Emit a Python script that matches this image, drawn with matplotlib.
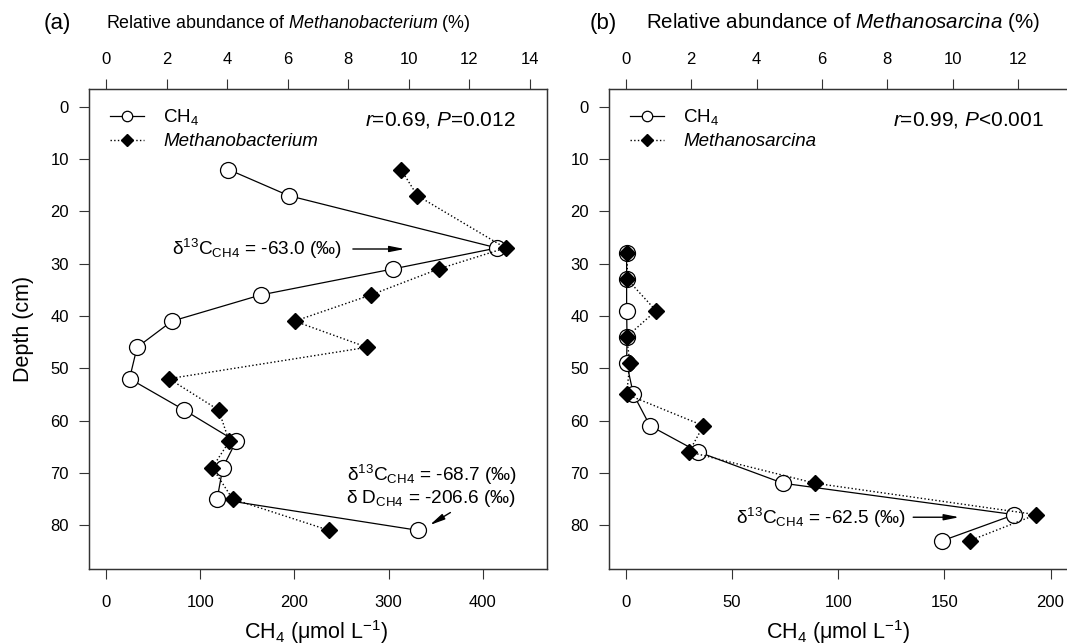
import matplotlib
matplotlib.use('Agg')
import matplotlib.pyplot as plt
from matplotlib.lines import Line2D

plt.rcParams['font.family'] = ['Liberation Sans', 'DejaVu Sans']
plt.rcParams['mathtext.fontset'] = 'custom'
plt.rcParams['mathtext.rm'] = 'Liberation Sans'
plt.rcParams['mathtext.it'] = 'Liberation Sans:italic'
plt.rcParams['mathtext.bf'] = 'Liberation Sans:bold'

# ---------------- data ----------------
depth_a = [12, 17, 27, 31, 36, 41, 46, 52, 58, 64, 69, 75, 81]
ch4_a = [130, 194, 415, 305, 164, 70, 33, 25, 83, 138, 124, 118, 331]
mbac_a = [9.74, 10.28, 13.19, 10.99, 8.74, 6.23, 8.62, 2.08, 3.72, 4.07, 3.51, 4.18, 7.36]

depth_b = [28, 33, 39, 44, 49, 55, 61, 66, 72, 78, 83]
ch4_b = [0.3, 0.3, 0.3, 0.5, 0.3, 3.5, 11.3, 34, 74, 183, 149]
msar_b = [0.04, 0.04, 0.92, 0.02, 0.12, 0.02, 2.37, 1.93, 5.79, 12.56, 10.52]

depth_ticks = [0, 10, 20, 30, 40, 50, 60, 70, 80]
ch4_ticks_a = [0, 100, 200, 300, 400]
ch4_ticks_b = [0, 50, 100, 150, 200]
pct_ticks_a = [0, 2, 4, 6, 8, 10, 12, 14]
pct_ticks_b = [0, 2, 4, 6, 8, 10, 12]

W, H = 1067, 644
fig = plt.figure(figsize=(W / 100, H / 100), dpi=100)

SPC = '#333333'
TICK_FS = 12
LAB_FS = 15.5


def style(ax, bottom):
    for s in ax.spines.values():
        s.set_color(SPC)
        s.set_linewidth(0.9)
    if bottom:
        ax.tick_params(axis='x', which='both', bottom=True, top=False,
                       labelbottom=True, labeltop=False, direction='out',
                       length=7.5, width=0.8, color=SPC, labelsize=TICK_FS, pad=11)
        ax.tick_params(axis='y', left=True, right=False, direction='out',
                       length=7.5, width=0.8, color=SPC, labelsize=TICK_FS, pad=7)
    else:
        ax.tick_params(axis='x', which='both', bottom=False, top=True,
                       labelbottom=False, labeltop=True, direction='out',
                       length=7.5, width=0.8, color=SPC, labelsize=TICK_FS, pad=8)
        ax.tick_params(axis='y', left=False, right=False, labelleft=False)


def panel(rect, depth, ch4, microbe, xlim, ch4_ticks, plim, pct_ticks, name, rtext,
          rx):
    ax = fig.add_axes(rect)
    ax.plot(ch4, depth, '-', color='black', lw=0.9, marker='o', ms=11.5,
            mfc='white', mec='black', mew=0.9, zorder=3)
    ax.set_xlim(*xlim)
    ax.set_ylim(88.4, -3.4)
    ax.set_xticks(ch4_ticks)
    ax.set_yticks(depth_ticks)
    style(ax, True)
    axt = ax.twiny()
    axt.plot(microbe, depth, ':', color='black', lw=1.0, marker='D', ms=8.3,
             mfc='black', mec='black', zorder=4)
    axt.set_xlim(*plim)
    axt.set_xticks(pct_ticks)
    style(axt, False)

    h1 = Line2D([], [], color='black', lw=0.9, marker='o', ms=7.5, mfc='white',
                mec='black', mew=0.9)
    h2 = Line2D([], [], color='black', lw=1.0, ls=':', marker='D', ms=6.3,
                mfc='black', mec='black')
    leg = axt.legend([h1, h2], ['CH$_4$', name], loc='upper left',
                     bbox_to_anchor=(0.045, 0.962), frameon=False, fontsize=13.5,
                     handlelength=1.85, handletextpad=1.0, borderpad=0,
                     borderaxespad=0, labelspacing=0.32)
    leg.get_texts()[1].set_style('italic')
    axt.text(rx, 0.935, rtext, transform=axt.transAxes, ha='right',
             va='center', fontsize=15)
    return ax, axt


ax_a, axt_a = panel([89 / W, 1 - 569 / H, 458 / W, 480 / H], depth_a, ch4_a,
                    mbac_a, (-18, 468), ch4_ticks_a, (-0.56, 14.56), pct_ticks_a,
                    'Methanobacterium', '$r$=0.69, $P$=0.012', 0.932)
ax_b, axt_b = panel([609 / W, 1 - 569 / H, 458.5 / W, 480 / H], depth_b, ch4_b,
                    msar_b, (-8, 208), ch4_ticks_b, (-0.52, 13.52), pct_ticks_b,
                    'Methanosarcina', '$r$=0.99, $P$<0.001', 0.949)

ANN_FS = 13.7
arrow = dict(arrowstyle='-|>,head_length=0.9,head_width=0.18', color='black',
             lw=1.0, shrinkA=0, shrinkB=0)

# panel (a) annotations
ax_a.text(250, 27.2, 'δ$^{13}$C$_{\\mathrm{CH4}}$ = -63.0 (‰)', ha='right',
          va='center', fontsize=ANN_FS)
ax_a.annotate('', xy=(317, 27.2), xytext=(262, 27.2), arrowprops=arrow)
ax_a.text(435.5, 70.5, 'δ$^{13}$C$_{\\mathrm{CH4}}$ = -68.7 (‰)', ha='right',
          va='center', fontsize=ANN_FS)
ax_a.text(435.5, 75.0, 'δ D$_{\\mathrm{CH4}}$ = -206.6 (‰)', ha='right',
          va='center', fontsize=ANN_FS)
ax_a.annotate('', xy=(343.6, 80.0), xytext=(365.5, 77.6), arrowprops=arrow)

# panel (b) annotations
ax_b.text(131.9, 78.6, 'δ$^{13}$C$_{\\mathrm{CH4}}$ = -62.5 (‰)', ha='right',
          va='center', fontsize=ANN_FS)
ax_b.annotate('', xy=(157, 78.5), xytext=(135.3, 78.5), arrowprops=arrow)

# titles / labels
fig.text(57 / W, 1 - 23 / H, '(a)', ha='center', va='center', fontsize=16)
fig.text(288 / W, 1 - 23 / H,
         'Relative abundance of $\\mathit{Methanobacterium}$ (%)',
         ha='center', va='center', fontsize=12.9)
fig.text(603 / W, 1 - 23 / H, '(b)', ha='center', va='center', fontsize=16)
fig.text(843 / W, 1 - 23 / H,
         'Relative abundance of $\\mathit{Methanosarcina}$ (%)',
         ha='center', va='center', fontsize=14.8)
fig.text(23 / W, 1 - 329 / H, 'Depth (cm)', rotation=90, ha='center',
         va='center', fontsize=LAB_FS)
fig.text(316 / W, 1 - 632 / H, 'CH$_4$ (μmol L$^{-1}$)', ha='center',
         va='center', fontsize=LAB_FS)
fig.text(838 / W, 1 - 632 / H, 'CH$_4$ (μmol L$^{-1}$)', ha='center',
         va='center', fontsize=LAB_FS)

fig.savefig('out.png', dpi=100)
